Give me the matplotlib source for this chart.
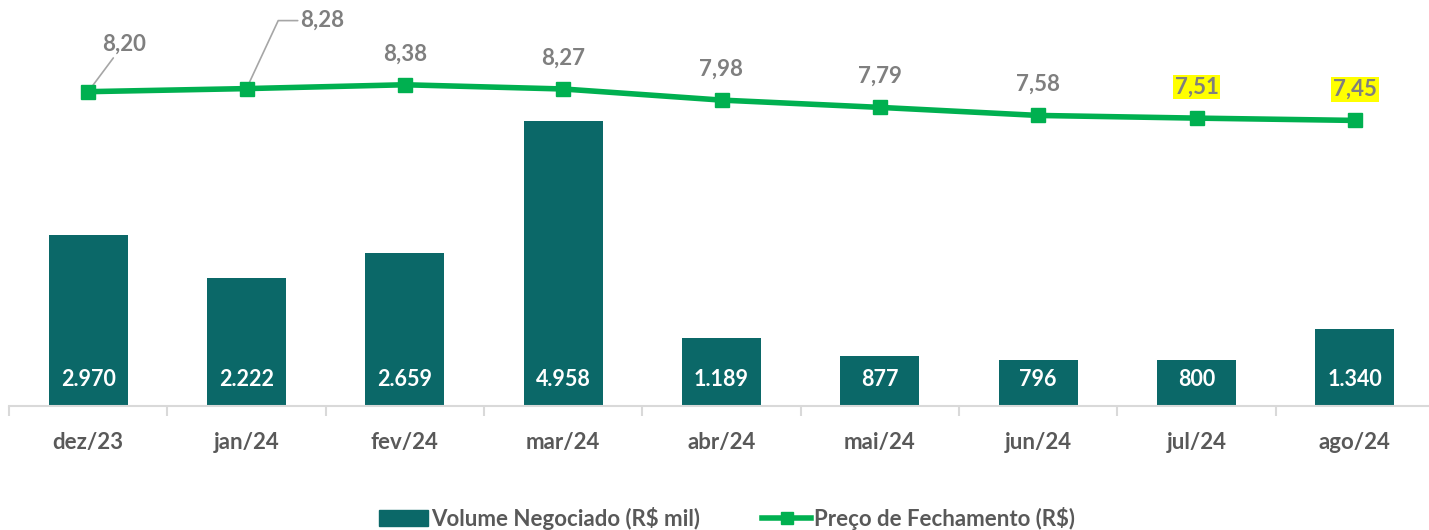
import matplotlib
matplotlib.use("Agg")
import matplotlib.pyplot as plt
from matplotlib.lines import Line2D
from matplotlib.patches import Patch
import matplotlib.transforms as mtrans

categories = ["dez/23", "jan/24", "fev/24", "mar/24", "abr/24", "mai/24", "jun/24", "jul/24", "ago/24"]
volume = [2970, 2222, 2659, 4958, 1189, 877, 796, 800, 1340]
preco = [8.20, 8.28, 8.38, 8.27, 7.98, 7.79, 7.58, 7.51, 7.45]

plt.rcParams['font.family'] = ['Lato', 'DejaVu Sans']

BAR = "#0b6868"
GREEN = "#00b050"
GRAY = "#7f7f7f"
TICK = "#595959"

fig = plt.figure(figsize=(14.29, 5.30), dpi=100)
W, H = 1429, 530
ax = fig.add_axes([9 / W, 124 / H, 1425 / W, 345 / H])
ax2 = ax.twinx()

x = list(range(len(categories)))
ax.bar(x, volume, width=0.5, color=BAR, zorder=2)
ax.set_ylim(0, 6000)
ax.set_xlim(-0.5, len(categories) - 0.5)
ax2.set_ylim(0, 9)

lab_tr = ax.transData + mtrans.ScaledTranslation(0, 26 / 100, fig.dpi_scale_trans)
for xi, v in zip(x, volume):
    ax.text(xi, 0, f"{v:,}".replace(",", "."), ha="center", va="center",
            color="white", fontsize=15.5, fontweight="bold",
            transform=lab_tr, zorder=3)

ax2.plot(x, preco, color=GREEN, lw=4, marker="s", ms=10, zorder=4, solid_capstyle="butt")

px = 0.72  # points per pixel
FS = 16
for i, (xi, p) in enumerate(zip(x, preco)):
    lab = f"{p:.2f}".replace(".", ",")
    if i == 0:
        ax2.annotate(lab, xy=(xi, p), xytext=(36 * px, 47 * px), textcoords="offset points",
                     ha="center", va="center", fontsize=FS, fontweight="bold", color=GRAY,
                     arrowprops=dict(arrowstyle="-", color="#a6a6a6", lw=1.2,
                                     shrinkA=0, shrinkB=0,
                                     relpos=(0.3, 0.0)))
    elif i == 1:
        ax2.annotate(lab, xy=(xi, p), xytext=(54 * px, 68 * px), textcoords="offset points",
                     ha="left", va="center", fontsize=FS, fontweight="bold", color=GRAY,
                     arrowprops=dict(arrowstyle="-", color="#a6a6a6", lw=1.2,
                                     shrinkA=0, shrinkB=0,
                                     connectionstyle="angle,angleA=0,angleB=65,rad=0",
                                     relpos=(0.0, 0.5)))
    else:
        kw = {}
        if i >= 7:
            kw["bbox"] = dict(boxstyle="square,pad=0.08", fc="#ffff00", ec="none")
        ax2.annotate(lab, xy=(xi, p), xytext=(0, 31 * px), textcoords="offset points",
                     ha="center", va="center", fontsize=FS, fontweight="bold", color=GRAY, **kw)

for a in (ax, ax2):
    for s in ("top", "right", "left"):
        a.spines[s].set_visible(False)
    a.set_yticks([])
ax2.spines["bottom"].set_visible(False)
ax.spines["bottom"].set_color("#d9d9d9")
ax.spines["bottom"].set_linewidth(1.5)

ax.set_xticks(x)
ax.set_xticklabels(categories, fontsize=16, fontweight="bold", color=TICK)
ax.tick_params(axis="x", length=0, pad=19)
ax.set_xticks([i - 0.5 for i in range(len(categories) + 1)], minor=True)
ax.tick_params(axis="x", which="minor", length=7, width=1.5, color="#d9d9d9")

handles = [Patch(color=BAR, label="Volume Negociado (R$ mil)"),
           Line2D([], [], color=GREEN, lw=4, marker="s", ms=9, label="Preço de Fechamento (R$)")]
fig.legend(handles=handles, loc="center", bbox_to_anchor=(727 / W, 1 - 518 / H), ncol=2,
           frameon=False, prop=dict(weight="bold", size=16),
           handlelength=2.2, handleheight=0.7, columnspacing=2.8, handletextpad=0.15,
           labelcolor=TICK)

fig.savefig("out.png", dpi=100)
